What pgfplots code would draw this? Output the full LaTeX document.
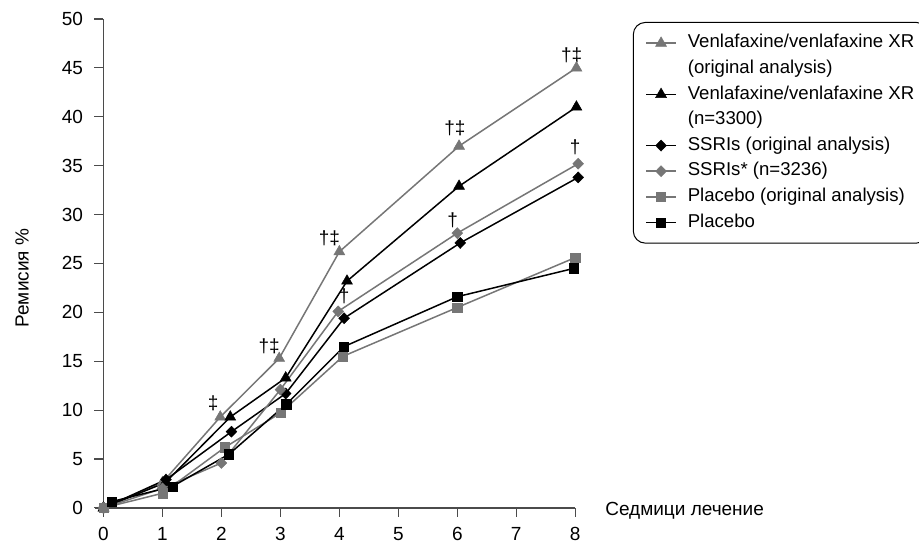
\documentclass[border=0pt]{standalone}
\usepackage{fontspec}
\setmainfont{Liberation Sans}
\usepackage{pgfplots}
\pgfplotsset{compat=1.18}
\definecolor{mg}{RGB}{118,118,118}
\definecolor{ax}{RGB}{75,75,75}
\begin{document}
\fontsize{19}{23}\selectfont
\begin{tikzpicture}
\begin{axis}[
  x=58.97pt, y=9.78pt,
  xmin=-0.14, xmax=8, ymin=-0.6, ymax=50,
  axis lines=middle,
  axis line style={-, ax, line width=1.3pt},
  hide obscured x ticks=false, hide obscured y ticks=false,
  xtick={0,1,...,8}, ytick={0,5,...,50},
  tick align=outside, major tick length=9pt,
  tick style={ax, line width=1.1pt},
  clip=false,
  font=\fontsize{19}{23}\selectfont,
  /pgf/number format/assume math mode=true,
  xticklabel style={yshift=-3.5pt},
  yticklabel style={xshift=-5pt},
  legend cell align=left,
  legend image code/.code={\draw[sharp corners,mark repeat=2,mark phase=2] plot coordinates {(0pt,0pt)(15pt,0pt)(30pt,0pt)};},
  legend style={at={(axis description cs:1.12,0.994)}, anchor=north west,
    draw=black, line width=1pt, rounded corners=12pt,
    font=\fontsize{18.6}{23}\selectfont,
    row sep=0.1pt, column sep=9pt, inner xsep=12pt, inner ysep=8pt,
    nodes={text height=14pt, text depth=4.5pt, inner ysep=3.5pt}},
  every axis plot/.append style={line width=1.5pt, sharp corners},
]
\addplot[mg, mark=triangle*, mark size=6.3pt, mark options={fill=mg, draw=mg, line width=0.5pt}] coordinates {(0,0) (1,2.6) (1.98,9.3) (2.98,15.3) (4.0,26.2) (6.03,37.0) (8.02,45.0)};
\addlegendentry{Venlafaxine/venlafaxine XR}
\addlegendimage{empty legend}
\addlegendentry{(original analysis)}
\addplot[black, mark=triangle*, mark size=6.3pt, mark options={fill=black, line width=0.5pt}] coordinates {(0,0) (1.05,2.6) (2.15,9.3) (3.09,13.3) (4.13,23.2) (6.03,32.9) (8.02,41.0)};
\addlegendentry{Venlafaxine/venlafaxine XR}
\addlegendimage{empty legend}
\addlegendentry{(n=3300)}
\addplot[black, mark=diamond*, mark size=5.5pt, mark options={fill=black, xscale=1.3, line width=0.5pt}] coordinates {(0,0) (1.06,2.9) (2.17,7.8) (3.09,11.7) (4.08,19.4) (6.05,27.1) (8.05,33.8)};
\addlegendentry{SSRIs (original analysis)}
\addplot[mg, mark=diamond*, mark size=5.5pt, mark options={fill=mg, draw=mg, xscale=1.3, line width=0.5pt}] coordinates {(0,0) (1.0,2.0) (2.0,4.6) (3.0,12.1) (3.98,20.1) (6.0,28.1) (8.05,35.2)};
\addlegendentry{SSRIs* (n=3236)}
\addplot[mg, mark=square*, mark size=4.6pt, mark options={fill=mg, draw=mg, line width=0.5pt}] coordinates {(0,0) (1.0,1.5) (2.06,6.2) (3.0,9.7) (4.06,15.5) (6.0,20.5) (8.0,25.6)};
\addlegendentry{Placebo (original analysis)}
\addplot[black, mark=square*, mark size=4.6pt, mark options={fill=black, line width=0.5pt}] coordinates {(0.14,0.65) (1.17,2.2) (2.13,5.5) (3.1,10.6) (4.08,16.5) (6.0,21.6) (7.98,24.5)};
\addlegendentry{Placebo}
\node at (axis cs:1.86,10.7) {‡};
\node at (axis cs:2.81,16.5) {†‡};
\node at (axis cs:3.83,27.6) {†‡};
\node at (axis cs:4.08,21.6) {†};
\node at (axis cs:5.96,38.8) {†‡};
\node at (axis cs:5.92,29.4) {†};
\node at (axis cs:7.94,46.3) {†‡};
\node at (axis cs:8.0,36.9) {†};
\node[rotate=90] at (axis cs:-1.38,23.5) {Ремисия \%};
\node[anchor=west] at (axis cs:8.4,-0.3) {Седмици лечение};
\coordinate (bbl) at (axis cs:-1.755,-3.58);
\coordinate (btr) at (axis cs:13.83,51.94);
\end{axis}
\pgfresetboundingbox
\path[use as bounding box] (bbl) rectangle (btr);
\end{tikzpicture}
\end{document}
